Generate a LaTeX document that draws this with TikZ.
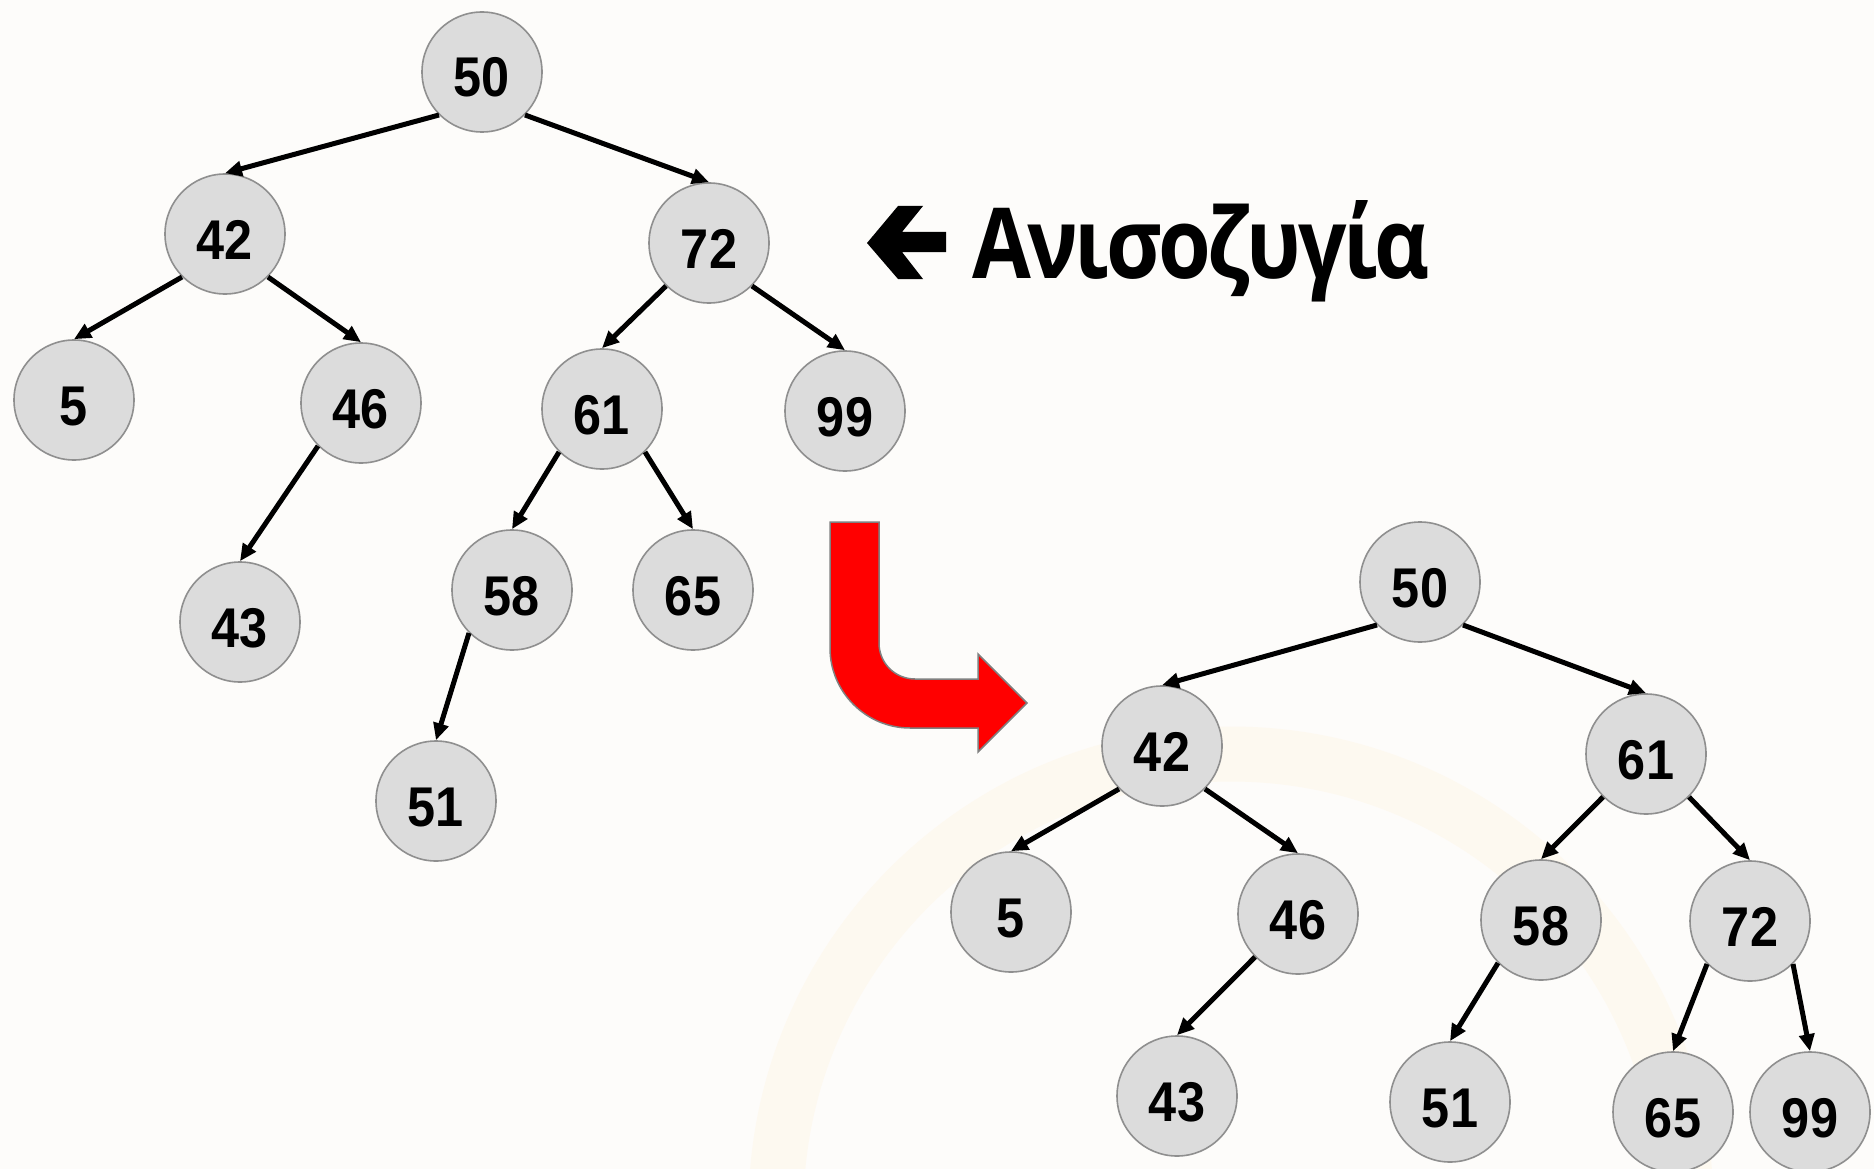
\documentclass[tikz,border=0pt]{standalone}
\usepackage{fontspec}
\setmainfont{Liberation Sans}
\newfontfamily\grfont{Open Sans}
\usetikzlibrary{arrows.meta}
\definecolor{bgc}{HTML}{FDFCFA}
\definecolor{arcc}{HTML}{FDF9F0}
\definecolor{nodefill}{HTML}{DCDCDC}
\definecolor{nodeline}{HTML}{8F8F8F}
\definecolor{redarrow}{HTML}{FF0000}
\newcommand{\nv}[1]{\raisebox{-25pt}[0pt][0pt]{\scalebox{0.9}[1]{#1}}}
\newcommand{\gk}{\kern-4pt}
\tikzset{
  tnode/.style={circle, draw=nodeline, fill=nodefill, line width=1.6pt,
    minimum size=120pt, inner sep=0pt,
    font=\bfseries\fontsize{56}{56}\selectfont},
  link/.style={line width=5pt, -{Triangle[length=17pt,width=15pt]}},
}
\begin{document}
\begin{tikzpicture}[x=1pt,y=-1pt]
\fill[bgc] (0,0) rectangle (1874,1169);
\useasboundingbox (0,0) rectangle (1874,1169);
% faint background arc
\begin{scope}
\clip (0,0) rectangle (1874,1169);
\draw[arcc, line width=55pt] (1231,1209) circle [radius=455];
\end{scope}

% top tree
\node[tnode] (t50) at (482,72) {\nv{50}};
\node[tnode] (t42) at (225,234) {\nv{42}};
\node[tnode] (t72) at (709,243) {\nv{72}};
\node[tnode] (t5) at (74,400) {\nv{5}};
\node[tnode] (t46) at (361,403) {\nv{46}};
\node[tnode] (t61) at (602,409) {\nv{61}};
\node[tnode] (t99) at (845,411) {\nv{99}};
\node[tnode] (t43) at (240,622) {\nv{43}};
\node[tnode] (t58) at (512,590) {\nv{58}};
\node[tnode] (t65) at (693,590) {\nv{65}};
\node[tnode] (t51) at (436,801) {\nv{51}};

\draw[link] (t50.225) -- (t42.north);
\draw[link] (t50.315) -- (t72.north);
\draw[link] (t42.225) -- (t5.north);
\draw[link] (t42.315) -- (t46.north);
\draw[link] (t46.225) -- (t43.north);
\draw[link] (t72.225) -- (t61.north);
\draw[link] (t72.315) -- (t99.north);
\draw[link] (t61.225) -- (t58.north);
\draw[link] (t61.315) -- (t65.north);
\draw[link] (t58.225) -- (t51.north);

% label with arrow
\fill[black] (867,243) -- (898,206) -- (923,206) -- (902,232) -- (946,232)
  -- (946,252) -- (902,252) -- (923,279) -- (898,279) -- cycle;
\node[anchor=base west, inner sep=0pt, font=\grfont\bfseries\fontsize{98}{98}\selectfont]
  (lbl) at (972,278) {\scalebox{0.87}[1]{Α\gk ν\gk ι\gk σ\gk ο\gk ζ\gk υ\gk γ\gk ί\gk α}};

% red bent arrow
\draw[fill=redarrow, draw=gray, line width=1.5pt, line join=miter]
  (830,522) -- (879,522) -- (879,643)
  .. controls (879,663) and (895,679) .. (915,679)
  -- (978,679) -- (978,654) -- (1027,703) -- (978,752) -- (978,728) -- (910,728)
  .. controls (866,728) and (830,692) .. (830,648) -- cycle;

% bottom tree
\node[tnode] (b50) at (1420,582) {\nv{50}};
\node[tnode] (b42) at (1162,746) {\nv{42}};
\node[tnode] (b61) at (1646,754) {\nv{61}};
\node[tnode] (b5) at (1011,912) {\nv{5}};
\node[tnode] (b46) at (1298,914) {\nv{46}};
\node[tnode] (b58) at (1541,920) {\nv{58}};
\node[tnode] (b72) at (1750,921) {\nv{72}};
\node[tnode] (b43) at (1177,1096) {\nv{43}};
\node[tnode] (b51) at (1450,1102) {\nv{51}};
\node[tnode] (b65) at (1673,1112) {\nv{65}};
\node[tnode] (b99) at (1810,1112) {\nv{99}};

\draw[link] (b50.225) -- (b42.north);
\draw[link] (b50.315) -- (b61.north);
\draw[link] (b42.225) -- (b5.north);
\draw[link] (b42.315) -- (b46.north);
\draw[link] (b46.225) -- (b43.north);
\draw[link] (b61.225) -- (b58.north);
\draw[link] (b61.315) -- (b72.north);
\draw[link] (b58.225) -- (b51.north);
\draw[link] (b72.225) -- (b65.north);
\draw[link] (b72.315) -- (b99.north);
\end{tikzpicture}
\end{document}
